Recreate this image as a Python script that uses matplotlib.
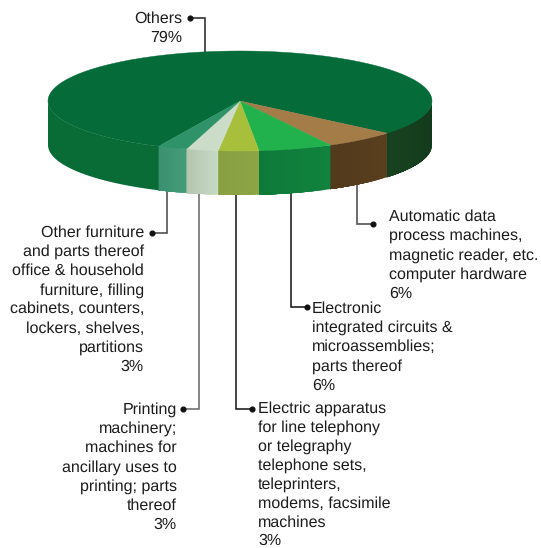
import numpy as np
import matplotlib
matplotlib.use('Agg')
import matplotlib.pyplot as plt
from matplotlib.colors import to_rgb

plt.rcParams['font.family'] = ['Liberation Sans', 'DejaVu Sans']
plt.rcParams['text.hinting'] = 'none'
plt.rcParams['text.hinting_factor'] = 1

# slices, going round from the right hand side of the front edge
# sizes, the labels round them to 6, 6, 3, 3, 3, 79
values = [6.06, 6.22, 3.39, 2.69, 2.47, 79.17]
top_colors = ['#a37c47', '#21b14d', '#a8bf3b', '#cbdcc8', '#2f9369', '#056c39']
wall_from = ['#5a3f1e', '#11833e', '#8ea445', '#c6d9c5', '#439c78', '#096b36']
wall_to = ['#523a1c', '#0e7a3a', '#87a042', '#b4c6ae', '#3c9170', '#096b36']

others_lines = ['Others', '79%']
furniture_lines = ['Other furniture', 'and parts thereof', 'office & household', 'furniture, filling',
                   'cabinets, counters,', 'lockers, shelves,', 'partitions', '3%']
printing_lines = ['Printing', 'machinery;', 'machines for', 'ancillary uses to', 'printing; parts',
                  'thereof', '3%']
electric_lines = ['Electric apparatus', 'for line telephony', 'or telegraphy', 'telephone sets,',
                  'teleprinters,', 'modems, facsimile', 'machines', '3%']
electronic_lines = ['Electronic', 'integrated circuits &', 'microassemblies;', 'parts thereof', '6%']
computer_lines = ['Automatic data', 'process machines,', 'magnetic reader, etc.', 'computer hardware', '6%']

# pie geometry in pixels
cx, cy = 240, 101
rx, ry = 192, 50
depth = 44
start = 40.1
fsize = 11.3
step = 19.1

fig = plt.figure(figsize=(5.41, 5.48), dpi=100)
ax = fig.add_axes([0, 0, 1, 1])
ax.set_xlim(0, 541)
ax.set_ylim(548, 0)
ax.axis('off')


def ex(t):
    return cx + rx * np.cos(np.radians(t))


def ey(t):
    return cy + ry * np.sin(np.radians(t))


def draw_wall(t0, t1, c0, c1, n=12):
    # overlapping strips so the side of the pie gets soft shading without seams
    edges = np.linspace(t0, t1, n + 1)
    c0, c1 = np.array(to_rgb(c0)), np.array(to_rgb(c1))
    for i in range(n):
        t = np.linspace(edges[i], t1, 40)
        xs = np.r_[ex(t), ex(t[::-1])]
        ys = np.r_[ey(t), ey(t[::-1]) + depth]
        col = c0 + (c1 - c0) * i / max(n - 1, 1)
        ax.fill(xs, ys, color=col, lw=0, zorder=2)


angles = start + np.r_[0, np.cumsum(values)] * 3.6

# side of the pie
draw_wall(0, start, '#12391b', '#17421f')
for i in range(len(values) - 1):
    draw_wall(angles[i], angles[i + 1], wall_from[i], wall_to[i])
draw_wall(angles[5], 180, wall_from[5], wall_to[5], n=1)

# top of the pie, big slice first
for i in [5, 0, 1, 2, 3, 4]:
    t = np.linspace(angles[i], angles[i + 1], 200)
    ax.fill(np.r_[cx, ex(t)], np.r_[cy, ey(t)], color=top_colors[i], lw=0.3, zorder=3)


def leader(xs, ys, color):
    ax.plot(xs, ys, color=color, lw=1.1, solid_joinstyle='miter', zorder=1)
    ax.plot(xs[0], ys[0], 'o', color='#111111', ms=3.4, zorder=4)


leader([190, 205, 205], [18, 18, 52], '#222222')
leader([152, 167, 167], [233, 233, 190], '#444444')
leader([183, 199, 199], [409, 409, 194], '#666666')
leader([252, 235.5, 235.5], [409, 409, 194], '#111111')
leader([307, 291, 291], [307, 307, 192], '#111111')
leader([373, 357, 357], [224, 224, 184], '#444444')


def label(lines, x, y, ha, step=step):
    for i, line in enumerate(lines):
        ax.text(x, y + i * step, line, ha=ha, va='baseline', fontsize=fsize, color='#1c1c1c')


label(others_lines, 182, 23, 'right')
label(furniture_lines, 144, 237, 'right')
label(printing_lines, 177, 414, 'right')
label(electric_lines, 258, 413, 'left', step=18.9)
label(electronic_lines, 312, 313, 'left')
label(computer_lines, 389, 221, 'left')

fig.savefig('out.png', dpi=100)
